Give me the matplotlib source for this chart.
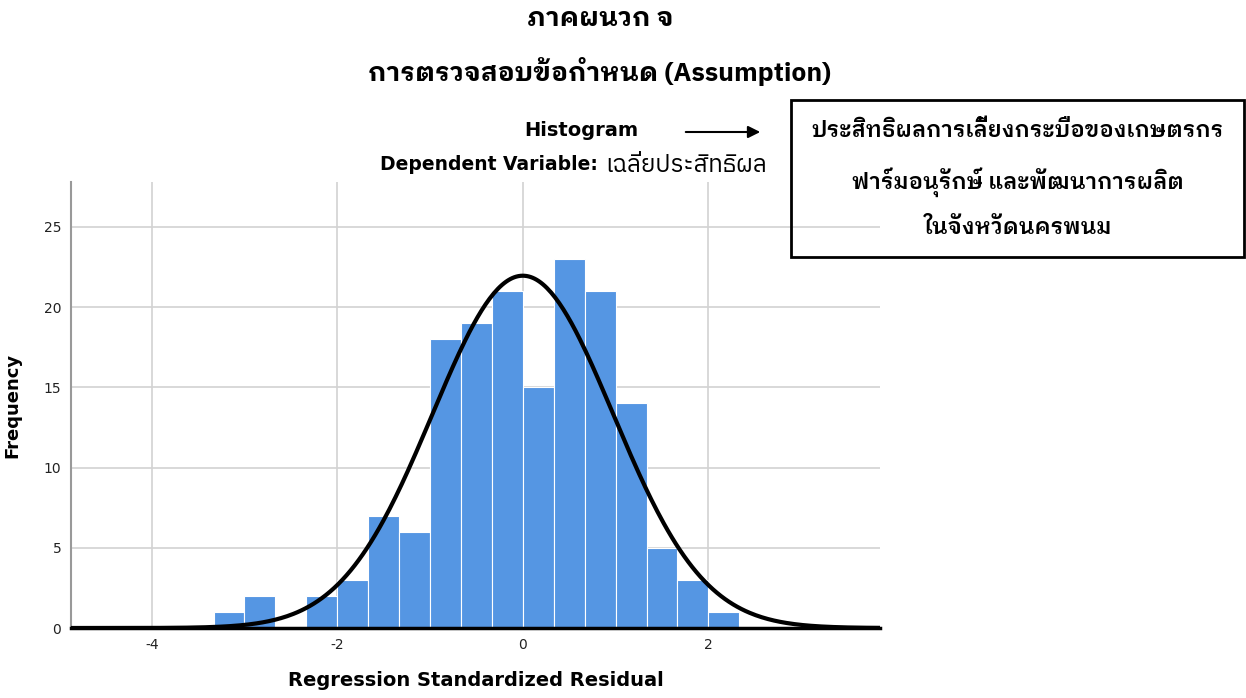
import numpy as np
import matplotlib
matplotlib.use('Agg')
import matplotlib.pyplot as plt
import matplotlib.patches as mpatches

# ข้อมูลจากรูป (histogram of standardized residuals)
bin_edges = [-10/3, -3, -8/3, -7/3, -2, -5/3, -4/3, -1, -2/3, -1/3, 0,
             1/3, 2/3, 1, 4/3, 5/3, 2, 7/3]
counts = [1, 2, 0, 2, 3, 7, 6, 18, 19, 21, 15, 23, 21, 14, 5, 3, 1]
curve_mean = 0.0
curve_std = 0.975
x_ticks = [-4, -2, 0, 2]
y_ticks = [0, 5, 10, 15, 20, 25]

title1 = 'ภาคผนวก จ'
title2 = 'การตรวจสอบข้อกำหนด (Assumption)'
dep_var = 'เฉลี่ยประสิทธิผล'
box_lines = ['ประสิทธิผลการเลี้ยงกระบือของเกษตรกร',
             'ฟาร์มอนุรักษ์ และพัฒนาการผลิต',
             'ในจังหวัดนครพนม']

plt.rcParams['font.family'] = ['DejaVu Sans', 'IBM Plex Sans Thai']
plt.rcParams['axes.unicode_minus'] = False
latin = ['DejaVu Sans', 'IBM Plex Sans Thai']
thai_bold = ['IBM Plex Sans Thai Looped', 'DejaVu Sans']
thai_plain = ['IBM Plex Sans Thai', 'DejaVu Sans']

fig = plt.figure(figsize=(12.46, 6.98), dpi=100)
ax = fig.add_axes([71/1246, 1 - 628/698, 809/1246, 446/698])

widths = np.diff(bin_edges)
ax.bar(bin_edges[:-1], counts, width=widths, align='edge',
       color='#5596e3', edgecolor='white', linewidth=0.8, zorder=2)

# เส้นโค้งปกติ
N = sum(counts)
bw = widths[0]
xs = np.linspace(-4.9, 3.9, 400)
ys = N * bw / (curve_std * np.sqrt(2 * np.pi)) * np.exp(-0.5 * ((xs - curve_mean) / curve_std) ** 2)
ax.plot(xs, ys, color='black', lw=3, zorder=3)

ax.set_xlim(-4.87, 3.85)
ax.set_ylim(0, 27.8)
ax.set_xticks(x_ticks)
ax.set_yticks(y_ticks)
ax.grid(True, color='#d2d2d2', lw=1.2, zorder=0)
ax.set_axisbelow(True)
ax.tick_params(length=0, labelsize=10, colors='#222222', pad=7)
for s in ['top', 'right']:
    ax.spines[s].set_visible(False)
ax.spines['left'].set_color('#999999')
ax.spines['left'].set_linewidth(1.5)
ax.spines['bottom'].set_color('black')
ax.spines['bottom'].set_linewidth(2.5)

ax.set_xlabel('Regression Standardized Residual', fontsize=14, fontweight='bold',
              family=latin, labelpad=14)
ax.set_ylabel('Frequency', fontsize=13, fontweight='bold', family=latin, labelpad=16)

# หัวเรื่อง
fig.text(600/1246, 1 - 19/698, title1, ha='center', va='center', fontsize=19,
         fontweight='bold', family=thai_bold)
fig.text(600/1246, 1 - 72/698, title2, ha='center', va='center', fontsize=19,
         fontweight='bold', family=thai_bold)
fig.text(581/1246, 1 - 130/698, 'Histogram', ha='center', va='center', fontsize=14,
         fontweight='bold', family=latin)
fig.text(380/1246, 1 - 165/698, 'Dependent Variable:', ha='left', va='center',
         fontsize=13.5, fontweight='bold', family=latin)
fig.text(605/1246, 1 - 165/698, dep_var, ha='left', va='center',
         fontsize=17.5, family=thai_plain)

# ลูกศร
fig.add_artist(mpatches.FancyArrowPatch(
    (683/1246, 1 - 132/698), (763/1246, 1 - 132/698), transform=fig.transFigure,
    arrowstyle='-|>', mutation_scale=18, color='black', lw=1.5))

# กล่องข้อความ
fig.add_artist(mpatches.Rectangle(
    (791/1246, 1 - 257/698), 453/1246, 157/698, transform=fig.transFigure,
    fill=False, edgecolor='black', lw=2))
for yy, line in zip([130, 182, 228], box_lines):
    fig.text(1018/1246, 1 - yy/698, line, ha='center', va='center', fontsize=16,
             fontweight='semibold', family=thai_bold)

fig.savefig('out.png', dpi=100)
